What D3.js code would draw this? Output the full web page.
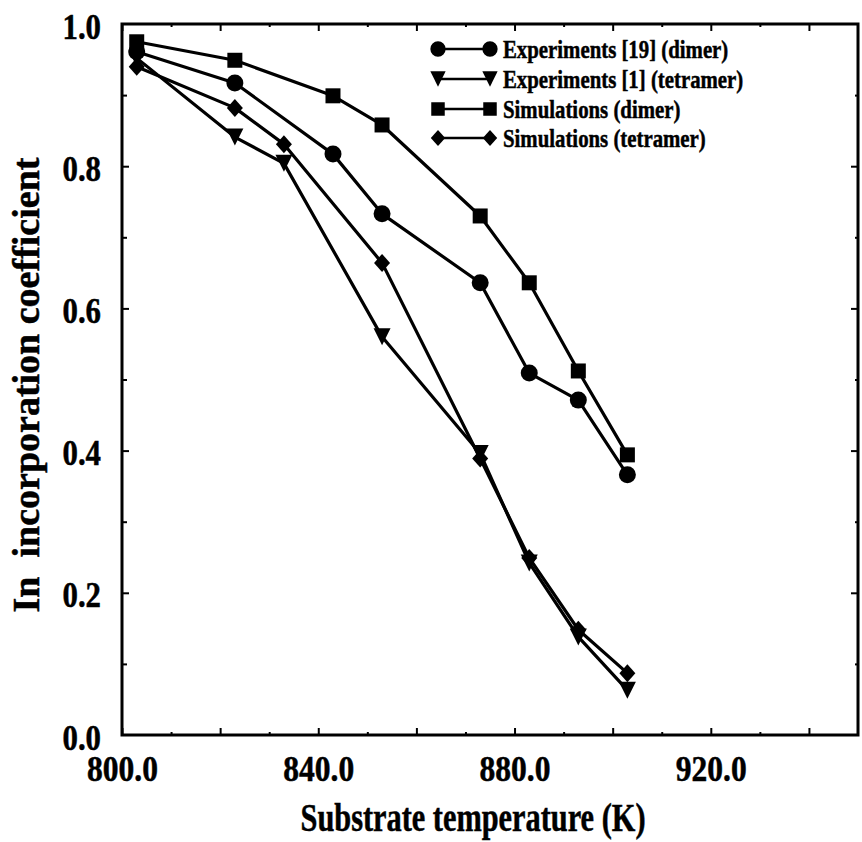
<!DOCTYPE html>
<html>
<head>
<meta charset="utf-8">
<script src="https://cdn.jsdelivr.net/npm/d3@7"></script>
<style>
  html, body { margin: 0; padding: 0; background: #fff; }
  svg { display: block; }
  text { font-family: "Liberation Serif", "Times New Roman", serif; font-weight: bold; fill: #000; stroke: #000; stroke-width: 0.5px; }
</style>
</head>
<body>
<svg id="chart" width="862" height="842"></svg>
<script>
// ---- Data ----
const xTickValues = [800, 820, 840, 860, 880, 900, 920, 940];
const xMinorTickValues = [810, 830, 850, 870, 890, 910, 930];
const xLabelValues = [800, 840, 880, 920];
const yTickValues = [0.2, 0.4, 0.6, 0.8];
const yMinorTickValues = [0.1, 0.3, 0.5, 0.7, 0.9];
const yLabelValues = [0.0, 0.2, 0.4, 0.6, 0.8, 1.0];

const seriesNames = ["Experiments [19] (dimer)", "Experiments [1] (tetramer)", "Simulations (dimer)", "Simulations (tetramer)"];
const seriesShapes = ["circle", "triangle", "square", "diamond"];

const expDimerT = [803, 823, 843, 853, 873, 883, 893, 903];
const expDimerV = [0.961, 0.917, 0.817, 0.733, 0.636, 0.509, 0.471, 0.366];

const expTetT = [803, 823, 833, 853, 873, 883, 893, 903];
const expTetV = [0.952, 0.841, 0.804, 0.560, 0.396, 0.242, 0.138, 0.063];

const simDimerT = [803, 823, 843, 853, 873, 883, 893, 903];
const simDimerV = [0.975, 0.949, 0.899, 0.858, 0.730, 0.636, 0.512, 0.394];

const simTetT = [803, 823, 833, 853, 873, 883, 893, 903];
const simTetV = [0.940, 0.882, 0.831, 0.664, 0.389, 0.249, 0.148, 0.087];

const seriesT = [expDimerT, expTetT, simDimerT, simTetT];
const seriesV = [expDimerV, expTetV, simDimerV, simTetV];

// ---- Layout ----
const L = 122, R = 858, T = 24, B = 735;
const svg = d3.select("#chart");

const x = d3.scaleLinear().domain([800, 950]).range([L, R]);
const y = d3.scaleLinear().domain([0, 1]).range([B, T]);

function condense(sel, f) {
  sel.each(function () {
    const w = this.getComputedTextLength();
    d3.select(this).attr("textLength", w * f).attr("lengthAdjust", "spacingAndGlyphs");
  });
}

// ticks (inward) on all four sides
function tickAxis(axisFn, scale, vals, size, tr) {
  svg.append("g").attr("transform", tr)
    .call(axisFn(scale).tickValues(vals).tickSize(-size).tickFormat(""))
    .call(g => g.select(".domain").remove());
}
tickAxis(d3.axisBottom, x, xTickValues, 7, `translate(0,${B})`);
tickAxis(d3.axisBottom, x, xMinorTickValues, 3, `translate(0,${B})`);
tickAxis(d3.axisTop, x, xTickValues, 7, `translate(0,${T})`);
tickAxis(d3.axisTop, x, xMinorTickValues, 3, `translate(0,${T})`);
tickAxis(d3.axisLeft, y, yTickValues, 7, `translate(${L},0)`);
tickAxis(d3.axisLeft, y, yMinorTickValues, 5, `translate(${L},0)`);
tickAxis(d3.axisRight, y, yTickValues, 7, `translate(${R},0)`);
tickAxis(d3.axisRight, y, yMinorTickValues, 3, `translate(${R},0)`);
svg.selectAll(".tick line").attr("stroke", "#000").attr("stroke-width", 2);

// tick labels
const xl = svg.append("g").attr("transform", `translate(0,${B})`)
  .call(d3.axisBottom(x).tickValues(xLabelValues).tickSize(0).tickPadding(21).tickFormat(d3.format(".1f")))
  .call(g => g.select(".domain").remove());
xl.selectAll("text").attr("font-size", 35).attr("font-family", null);
condense(xl.selectAll("text"), 0.9);

const yl = svg.append("g").attr("transform", `translate(${L},0)`)
  .call(d3.axisLeft(y).tickValues(yLabelValues).tickSize(0).tickPadding(21).tickFormat(d3.format(".1f")))
  .call(g => g.select(".domain").remove());
yl.selectAll("text").attr("font-size", 35).attr("font-family", null).attr("dy", "0.4em");
condense(yl.selectAll("text"), 0.88);

// frame
svg.append("rect").attr("x", L).attr("y", T).attr("width", R - L).attr("height", B - T)
  .attr("fill", "none").attr("stroke", "#000").attr("stroke-width", 3);

// marker shapes
function markerPath(shape, s) {
  const p = d3.path();
  if (shape === "circle") {
    const r = 8.5 * s; p.moveTo(r, 0); p.arc(0, 0, r, 0, 2 * Math.PI);
  } else if (shape === "square") {
    const h = 7.5 * s; p.rect(-h, -h, 2 * h, 2 * h);
  } else if (shape === "diamond") {
    const w = 8 * s, h = 9 * s;
    p.moveTo(0, -h); p.lineTo(w, 0); p.lineTo(0, h); p.lineTo(-w, 0); p.closePath();
  } else if (shape === "triangle") {
    const w = 8.5 * s, h = 8.5 * s;
    p.moveTo(-w, -h); p.lineTo(w, -h); p.lineTo(0, h); p.closePath();
  }
  return p.toString();
}

const line = d3.line().x(d => x(d[0])).y(d => y(d[1]));
seriesNames.forEach((name, i) => {
  const pts = seriesT[i].map((t, j) => [t, seriesV[i][j]]);
  svg.append("path").datum(pts).attr("d", line)
    .attr("fill", "none").attr("stroke", "#000").attr("stroke-width", 3.2).attr("stroke-linejoin", "round");
});
seriesNames.forEach((name, i) => {
  const pts = seriesT[i].map((t, j) => [t, seriesV[i][j]]);
  svg.append("g").selectAll("path").data(pts).join("path")
    .attr("transform", d => `translate(${x(d[0])},${y(d[1])})`)
    .attr("d", markerPath(seriesShapes[i], 1))
    .attr("fill", "#000");
});

// legend
const legRows = [49, 79, 109, 138];
const leg = svg.append("g");
seriesNames.forEach((name, i) => {
  const g = leg.append("g").attr("transform", `translate(0,${legRows[i]})`);
  g.append("line").attr("x1", 438).attr("x2", 490).attr("y1", 0).attr("y2", 0)
    .attr("stroke", "#000").attr("stroke-width", 2.5);
  [438, 490].forEach(cx => {
    g.append("path").attr("transform", `translate(${cx},0)`)
      .attr("d", markerPath(seriesShapes[i], 0.9)).attr("fill", "#000");
  });
  const t = g.append("text").attr("x", 503).attr("y", 9).attr("font-size", 26).text(name);
  condense(t, 0.8);
});

// axis titles
svg.append("text").attr("x", (L + R) / 2 - 17).attr("y", 831).attr("text-anchor", "middle")
  .attr("font-size", 39).attr("textLength", 345).attr("lengthAdjust", "spacingAndGlyphs")
  .text("Substrate temperature (K)");
svg.append("text").attr("transform", "translate(39,385) rotate(-90)").attr("text-anchor", "middle")
  .attr("font-size", 38).style("white-space", "pre")
  .text("In  incorporation coefficient");
</script>
</body>
</html>
